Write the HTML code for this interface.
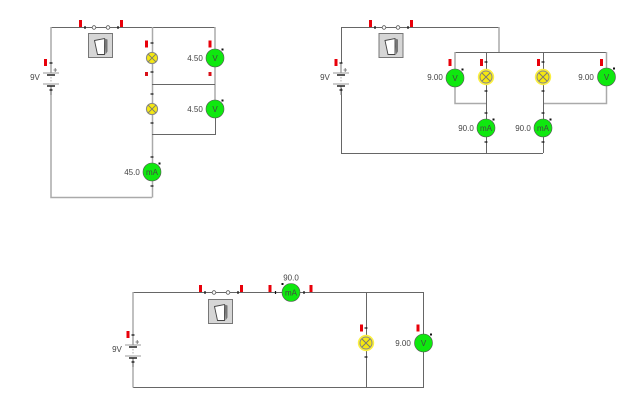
<!DOCTYPE html>
<html>
<head>
<meta charset="utf-8">
<style>
html,body{margin:0;padding:0;background:#fff}
svg{display:block}
text{font-family:"Liberation Sans",sans-serif;font-size:8px;fill:#444;text-anchor:middle}
.w{stroke:#666;stroke-width:1;fill:none}
.t{stroke:#aaa;stroke-width:1.5;fill:none}
</style>
</head>
<body>
<svg width="640" height="414" viewBox="0 0 640 414" xmlns="http://www.w3.org/2000/svg">
<defs>
  <g id="red"><rect x="-1.500" y="-3.500" width="3" height="7" fill="#e8000a"/></g>
  <g id="reds"><rect x="-1.500" y="-2" width="3" height="4" fill="#d81018"/></g>
  <g id="tickv"><path d="M-1.500 0H1.500" stroke="#111" stroke-width="1.200"/></g>
  <g id="tickh"><path d="M0 -1.500V1.500" stroke="#111" stroke-width="1.200"/></g>
  <g id="sw">
    <rect x="0" y="0" width="24" height="24" fill="#d6d6d6" stroke="#777"/>
    <path d="M6 7L16 5V21H9Z" fill="#fff" stroke="#444" stroke-width=".9"/>
    <path d="M16 5L19 6V18L17 21Z" fill="#777"/>
  </g>
  <g id="swl">
    <path d="M0 0H33" stroke="#666" stroke-width="1" fill="none"/>
    <circle cx="9" cy="0" r="1.800" fill="#fff" stroke="#555" stroke-width=".8"/>
    <circle cx="23" cy="0" r="1.800" fill="#fff" stroke="#555" stroke-width=".8"/>
    <path d="M0 -1.500V1.500M33 -1.500V1.500" stroke="#111" stroke-width="1.200"/>
  </g>
  <g id="bat">
    <rect x="-1" y="-10" width="2" height="25" fill="#fff"/>
    <path d="M0 -10V0M0 13V22" stroke="#777"/>
    <path d="M-8 0H8M-8 11H8" stroke="#999" stroke-width="1"/>
    <path d="M-4 2H4M-4 13H4" stroke="#222" stroke-width="1.600"/>
    <path d="M0 4V10" stroke="#aaa" stroke-dasharray="1.500 1.500"/>
    <path d="M-1.500 -10H1.500M-1.500 17H1.500" stroke="#111" stroke-width="1.200"/>
    <path d="M2.500 -3H6M4.200 -5V-1" stroke="#666" stroke-width=".8"/>
  </g>
  <g id="lamp">
    <circle r="5.600" fill="#f4e812" stroke="#888" stroke-width="1"/>
    <path d="M-3.800 -3.800L3.800 3.800M-3.800 3.800L3.800 -3.800" stroke="#777" stroke-width=".9"/>
  </g>
  <g id="lampg">
    <circle r="8.200" fill="#fbf040"/>
    <circle r="6" fill="#f6e80f" stroke="#888" stroke-width="1"/>
    <path d="M-4 -4L4 4M-4 4L4 -4" stroke="#777" stroke-width=".9"/>
  </g>
  <g id="meter">
    <circle r="9" fill="#0fe80f" stroke="#555" stroke-width=".6"/>
    <rect x="6.500" y="-9.500" width="2" height="2" fill="#111"/>
  </g>
</defs>

<rect width="640" height="414" fill="#fff"/>

<!-- Circuit 1 -->
<path class="w" d="M51 27.500H215"/>
<path class="t" d="M51 27V197.500H152"/>
<path class="t" d="M152.500 27V197.500"/>
<path class="t" d="M215 27V110"/>
<path class="w" d="M152 84.500H215M152 134.500H215.500V110"/>
<use href="#swl" x="85" y="27.500"/>
<use href="#red" x="80.500" y="23.500"/><use href="#red" x="121.500" y="23.500"/>
<use href="#sw" x="88.500" y="33.500"/>
<use href="#bat" x="51" y="73"/>
<use href="#red" x="45.500" y="62.500"/>
<use href="#lamp" x="152" y="58"/><use href="#lamp" x="152" y="109"/>
<use href="#tickv" x="152" y="43"/><use href="#tickv" x="152" y="72"/>
<use href="#tickv" x="152" y="94"/><use href="#tickv" x="152" y="123"/>
<use href="#tickv" x="152" y="157"/><use href="#tickv" x="152" y="186"/>
<use href="#red" x="146.500" y="44"/><use href="#reds" x="146.500" y="74"/>
<use href="#red" x="210" y="44"/><use href="#reds" x="210" y="74"/>
<use href="#meter" x="215" y="58"/><use href="#meter" x="215" y="109"/>
<use href="#meter" x="152" y="172"/>
<text x="215" y="61">V</text><text x="215" y="112">V</text><text x="152" y="175">mA</text>
<text x="195" y="61">4.50</text><text x="195" y="112">4.50</text><text x="132" y="175">45.0</text>
<text x="35" y="80">9V</text>

<!-- Circuit 2 -->
<path class="w" d="M341 27.500H499M341.500 27V153.500H543M455 52.500H606.500"/>
<path class="t" d="M499 27V52M455 52V103.500H486M543 103.500H606.500V52"/>
<path class="w" d="M486.500 52V153M543.500 52V153"/>
<use href="#swl" x="375" y="27.500"/>
<use href="#red" x="370.500" y="23.500"/><use href="#red" x="411.500" y="23.500"/>
<use href="#sw" x="379" y="33.500"/>
<use href="#bat" x="341" y="73"/>
<use href="#red" x="336" y="62.500"/>
<use href="#lampg" x="486" y="77"/><use href="#lampg" x="543" y="77"/>
<use href="#tickv" x="486" y="62"/><use href="#tickv" x="486" y="91"/>
<use href="#tickv" x="543" y="62"/><use href="#tickv" x="543" y="91"/>
<use href="#tickv" x="486" y="113"/><use href="#tickv" x="486" y="142"/>
<use href="#tickv" x="543" y="113"/><use href="#tickv" x="543" y="142"/>
<use href="#red" x="481.500" y="62.500"/><use href="#red" x="538.500" y="62.500"/>
<use href="#red" x="601.500" y="62.500"/><use href="#red" x="450" y="62.500"/>
<use href="#meter" x="455" y="78"/><use href="#meter" x="606.500" y="77"/>
<use href="#meter" x="486" y="128"/><use href="#meter" x="543" y="128"/>
<text x="455" y="81">V</text><text x="606.500" y="80">V</text>
<text x="486" y="131">mA</text><text x="543" y="131">mA</text>
<text x="435" y="80">9.00</text><text x="586" y="80">9.00</text>
<text x="466" y="131">90.0</text><text x="523" y="131">90.0</text>
<text x="325" y="80">9V</text>

<!-- Circuit 3 -->
<path class="w" d="M133 292.500H423.500V387.500H133M366.500 292V387"/>
<path class="t" d="M133 292V387.500"/>
<use href="#swl" x="205" y="292.500"/>
<use href="#red" x="200.500" y="288.500"/><use href="#red" x="241.500" y="288.500"/>
<use href="#red" x="270" y="288.500"/><use href="#red" x="311" y="288.500"/>
<use href="#sw" x="208.500" y="299.500"/>
<use href="#bat" x="133" y="345"/>
<use href="#red" x="128" y="334.500"/>
<use href="#tickh" x="275.500" y="292.500"/><use href="#tickh" x="304" y="292.500"/>
<circle cx="291" cy="292.500" r="9" fill="#0fe80f" stroke="#555" stroke-width=".6"/>
<rect x="281.500" y="283" width="2" height="2" fill="#111"/>
<text x="291" y="295.500">mA</text>
<text x="291" y="280.500">90.0</text>
<use href="#lampg" x="366" y="343"/>
<use href="#tickv" x="366" y="328"/><use href="#tickv" x="366" y="357"/>
<use href="#red" x="361.500" y="328"/><use href="#red" x="418" y="328"/>
<use href="#meter" x="423.500" y="343"/>
<text x="423.500" y="346">V</text>
<text x="403" y="346">9.00</text>
<text x="117" y="352">9V</text>
</svg>
</body>
</html>
